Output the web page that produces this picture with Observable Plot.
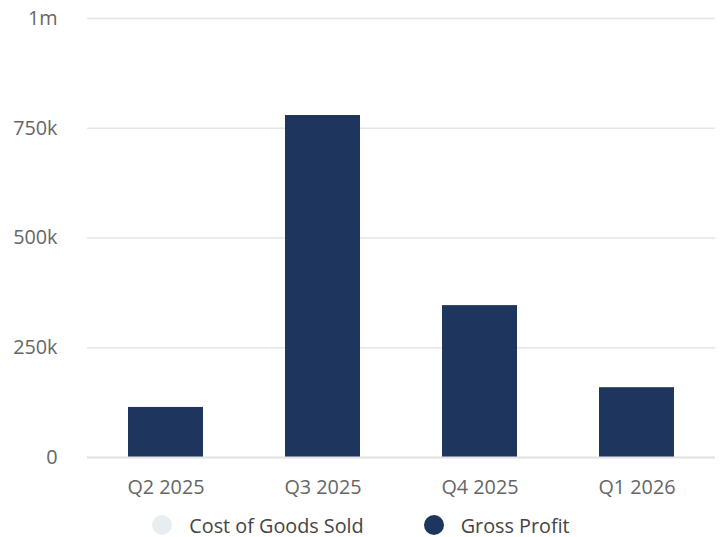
<!DOCTYPE html>
<html>
<head>
<meta charset="utf-8">
<script src="https://cdn.jsdelivr.net/npm/d3@7"></script>
<script src="https://cdn.jsdelivr.net/npm/@observablehq/plot@0.6"></script>
<style>
  html, body { margin: 0; padding: 0; background: #fff; }
  body { width: 722px; font-family: "Open Sans", sans-serif; }
  #legend { display: flex; justify-content: center; align-items: center; gap: 60px; margin-top: 6px; height: 28px; font-size: 19.8px; color: #444; }
  .item { display: flex; align-items: center; gap: 17px; }
  .sw { width: 20px; height: 20px; border-radius: 50%; display: inline-block; }
</style>
</head>
<body>
<div id="chart"></div>
<div id="legend"></div>
<script>
const quarters = ["Q2 2025", "Q3 2025", "Q4 2025", "Q1 2026"];
const costOfGoodsSold = [0, 0, 0, 0];
const grossProfit = [114000, 779000, 346000, 159000];
const seriesNames = ["Cost of Goods Sold", "Gross Profit"];
const seriesColors = ["#e8edf2", "#1e365d"];
const yTicks = [0, 250000, 500000, 750000, 1000000];
const yTickLabels = ["0", "250k", "500k", "750k", "1m"];

const rows = [];
quarters.forEach((q, i) => {
  rows.push({quarter: q, series: seriesNames[0], value: costOfGoodsSold[i]});
  rows.push({quarter: q, series: seriesNames[1], value: grossProfit[i]});
});

const chart = Plot.plot({
  width: 722,
  height: 505,
  marginTop: 18,
  marginBottom: 48,
  marginLeft: 87,
  marginRight: 7,
  style: {fontFamily: "Open Sans", fontSize: "19.8px", color: "#666", background: "#fff"},
  x: {domain: quarters, paddingInner: 0.52, paddingOuter: 0.26, label: null},
  y: {domain: [0, 1000000], label: null},
  color: {domain: seriesNames, range: seriesColors},
  marks: [
    Plot.gridY(yTicks, {stroke: "#e6e6e6", strokeOpacity: 1, strokeWidth: 1.5}),
    Plot.axisY(yTicks, {tickSize: 0, tickPadding: 30, tickFormat: (d) => yTickLabels[yTicks.indexOf(d)], fill: "#666", fontSize: 19.8}),
    Plot.axisX({tickSize: 0, tickPadding: 22, fill: "#666", fontSize: 19.8}),
    Plot.barY(rows, Plot.stackY({x: "quarter", y: "value", fill: "series", order: seriesNames})),
    Plot.ruleY([0], {stroke: "#e3e3e3", strokeWidth: 2})
  ]
});
document.getElementById("chart").appendChild(chart);

const legend = document.getElementById("legend");
seriesNames.forEach((name, i) => {
  const item = document.createElement("div");
  item.className = "item";
  const sw = document.createElement("span");
  sw.className = "sw";
  sw.style.background = seriesColors[i];
  const label = document.createElement("span");
  label.textContent = name;
  item.appendChild(sw);
  item.appendChild(label);
  legend.appendChild(item);
});
</script>
</body>
</html>
